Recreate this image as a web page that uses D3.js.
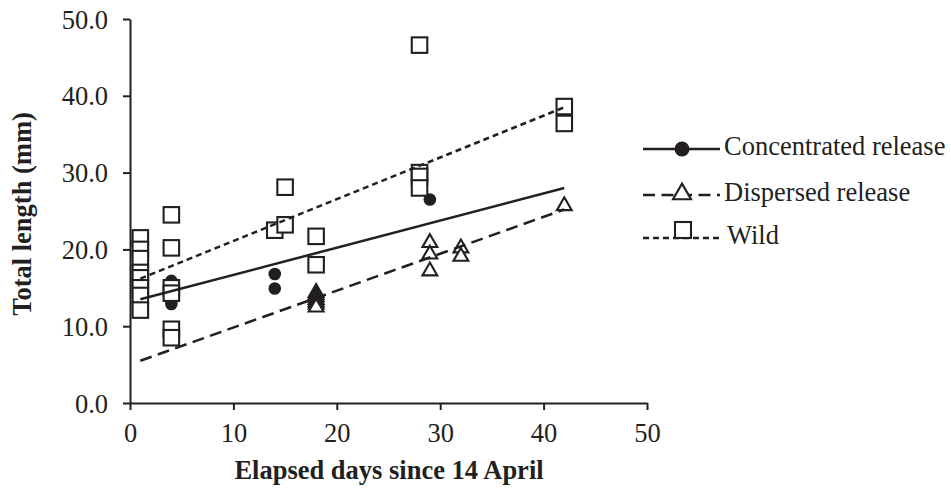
<!DOCTYPE html>
<html>
<head>
<meta charset="utf-8">
<script src="https://cdn.jsdelivr.net/npm/d3@7"></script>
<style>
  body { margin: 0; background: #fff; }
  svg { display: block; font-family: "Liberation Serif", "Times New Roman", serif; }
</style>
</head>
<body>
<svg id="plot" width="951" height="489"></svg>
<script>
// values
const concDays = [1, 1, 4, 4, 4, 14, 14, 18, 18, 29];
const concLen  = [20.0, 16.0, 15.9, 14.5, 12.9, 16.8, 14.9, 14.0, 13.3, 26.5];

const dispDays = [1, 1, 18, 18, 18, 18, 18, 18, 18, 29, 29, 29, 32, 32, 42];
const dispLen  = [16.0, 14.5, 14.5, 14.2, 13.9, 13.6, 13.3, 13.0, 12.6, 21.0, 19.5, 17.3, 20.3, 19.2, 25.8];

const wildDays = [1, 1, 1, 1, 1, 1, 1, 1, 4, 4, 4, 4, 4, 4, 14, 15, 15, 18, 18, 28, 28, 28, 28, 42, 42];
const wildLen  = [21.5, 20.0, 18.8, 17.0, 16.3, 15.0, 14.0, 12.1, 24.5, 20.2, 15.0, 14.3, 9.6, 8.5,
                  22.5, 28.1, 23.2, 21.7, 18.0, 46.6, 30.0, 29.5, 28.0, 38.6, 36.4];

// trendline end points (day, length)
const concTrend = [[1, 13.5], [42, 28.0]];
const dispTrend = [[1, 5.5], [42, 25.2]];
const wildTrend = [[1, 16.2], [42, 38.5]];

const xTicks = [0, 10, 20, 30, 40, 50];
const yTicks = [0, 10, 20, 30, 40, 50];
const seriesNames = ['Concentrated release', 'Dispersed release', 'Wild'];

const ink = '#231f20';
const svg = d3.select('#plot');

const x = d3.scaleLinear().domain([0, 50]).range([130, 647]);
const y = d3.scaleLinear().domain([0, 50]).range([403, 19]);

// axes
const xAxis = svg.append('g')
  .attr('transform', `translate(0, ${y(0)})`)
  .call(d3.axisBottom(x).tickValues(xTicks).tickSize(7).tickSizeOuter(0).tickPadding(0));
const yAxis = svg.append('g')
  .attr('transform', `translate(${x(0)}, 0)`)
  .call(d3.axisLeft(y).tickValues(yTicks).tickSize(7).tickSizeOuter(0).tickPadding(15)
    .tickFormat(d3.format('.1f')));

[xAxis, yAxis].forEach(a => {
  a.select('.domain').attr('stroke', ink).attr('stroke-width', 2);
  a.selectAll('.tick line').attr('stroke', ink).attr('stroke-width', 2);
  a.selectAll('.tick text').attr('fill', ink).style('font-size', '26.5px')
    .style('font-family', '"Liberation Serif", "Times New Roman", serif');
});
xAxis.selectAll('.tick text').attr('y', 39).attr('dy', 0);
yAxis.selectAll('.tick text').attr('dy', 9);

// axis titles
svg.append('text')
  .attr('x', 389).attr('y', 479)
  .attr('text-anchor', 'middle')
  .attr('fill', ink)
  .style('font-size', '26.5px').style('font-weight', 'bold')
  .text('Elapsed days since 14 April');

svg.append('text')
  .attr('transform', 'translate(31, 214) rotate(-90)')
  .attr('text-anchor', 'middle')
  .attr('fill', ink)
  .style('font-size', '26.5px').style('font-weight', 'bold')
  .text('Total length (mm)');

// marker shapes
function drawCircle(g, cx, cy, r) {
  g.append('circle').attr('cx', cx).attr('cy', cy).attr('r', r).attr('fill', ink);
}
function drawTri(g, cx, cy, s) {
  g.append('path').attr('d', d3.symbol().type(d3.symbolTriangle).size(s)())
    .attr('transform', `translate(${cx}, ${cy + 1})`)
    .attr('fill', '#fff').attr('stroke', ink).attr('stroke-width', 2.1);
}
function drawSquare(g, cx, cy, w) {
  g.append('rect').attr('x', cx - w / 2).attr('y', cy - w / 2).attr('width', w).attr('height', w)
    .attr('fill', '#fff').attr('stroke', ink).attr('stroke-width', 2.1);
}

const marks = svg.append('g');
concDays.forEach((d, i) => drawCircle(marks, x(d), y(concLen[i]), 6.3));
dispDays.forEach((d, i) => drawTri(marks, x(d), y(dispLen[i]), 95));
wildDays.forEach((d, i) => drawSquare(marks, x(d), y(wildLen[i]), 15.5));

// trendlines drawn over the markers
const line = d3.line().x(d => x(d[0])).y(d => y(d[1]));
svg.append('path').attr('d', line(concTrend))
  .attr('fill', 'none').attr('stroke', ink).attr('stroke-width', 2.5);
svg.append('path').attr('d', line(dispTrend))
  .attr('fill', 'none').attr('stroke', ink).attr('stroke-width', 2.5).attr('stroke-dasharray', '12,6.5');
svg.append('path').attr('d', line(wildTrend))
  .attr('fill', 'none').attr('stroke', ink).attr('stroke-width', 2.5).attr('stroke-dasharray', '6,4');

// legend
const legend = svg.append('g');
const legY = [149, 195, 238];
const dashes = [null, '12,6.5', '6,4'];
seriesNames.forEach((name, i) => {
  const ly = legY[i];
  const l = legend.append('line')
    .attr('x1', 643).attr('x2', 720).attr('y1', ly).attr('y2', ly)
    .attr('stroke', ink).attr('stroke-width', 2.5);
  if (dashes[i]) l.attr('stroke-dasharray', dashes[i]);
  if (i === 0) drawCircle(legend, 682, ly, 7.5);
  if (i === 1) drawTri(legend, 682, ly - 2, 140);
  if (i === 2) drawSquare(legend, 683, ly - 8, 16);
  legend.append('text')
    .attr('x', 724 + (i === 2 ? 3 : 0)).attr('y', ly + 6)
    .attr('fill', ink)
    .style('font-size', '26.5px')
    .text(name);
});
</script>
</body>
</html>
